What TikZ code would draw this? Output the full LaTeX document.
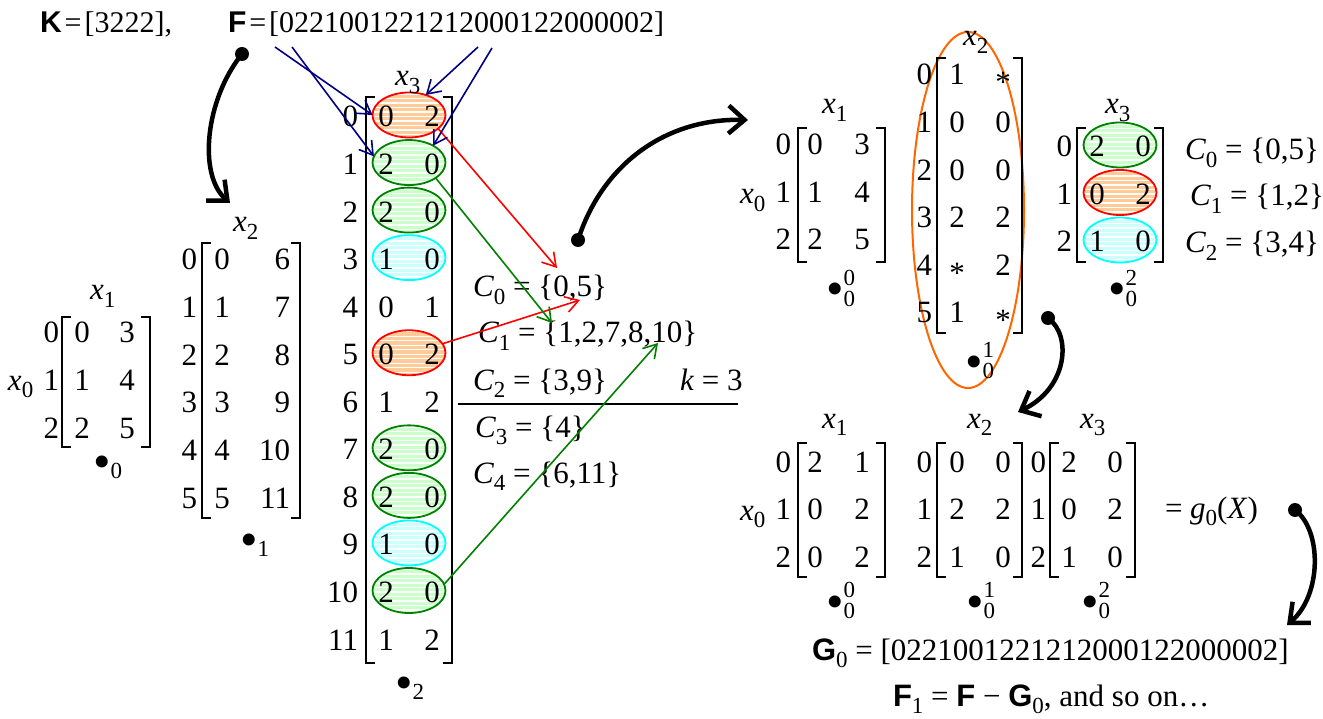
\documentclass[tikz,border=0pt]{standalone}
\usepackage{fontspec}
\setmainfont{Liberation Serif}
\setsansfont{Liberation Sans}
\usetikzlibrary{arrows.meta,shapes.geometric}
\definecolor{dkgreen}{RGB}{0,128,0}
\definecolor{arrblue}{RGB}{0,0,128}
\definecolor{orgline}{RGB}{255,102,0}
\definecolor{orgfill}{RGB}{255,204,153}
\definecolor{grfill}{RGB}{204,255,204}
\definecolor{cyfill}{RGB}{204,255,255}
\definecolor{cyline}{RGB}{0,255,255}
\newcommand\smallfs{\fontsize{23}{23}\selectfont}
\newcommand\sbs[2]{#1\raisebox{-0.25em}{\smallfs #2}}
\newcommand\bigbul{\raisebox{-6pt}{\fontsize{50}{50}\selectfont\textbullet}}
\newcommand\bsub[2]{\bigbul\raisebox{-0.2em}{\smallfs #2}\llap{\raisebox{0.47em}{\smallfs #1}}}
\newcommand\vx[1]{\sbs{\textit{x}}{#1}}
\newcommand\bsf[1]{\textsf{\textbf{#1}}}
\newcommand\astk{\raisebox{-0.25em}{*}}
\newcommand\mbr[4]{\draw[brk] ({#1+9},#3) -- (#1,#3) -- (#1,#4) -- ({#1+9},#4); \draw[brk] ({#2-9},#3) -- (#2,#3) -- (#2,#4) -- ({#2-9},#4);}
\tikzset{
 every node/.style={inner sep=0pt, outer sep=0pt, font=\fontsize{31}{37}\selectfont},
 tb/.style={anchor=base}, te/.style={anchor=base east}, tw/.style={anchor=base west},
 topfs/.style={font=\fontsize{30}{36}\selectfont},
 brk/.style={line width=1.3pt},
 hell/.style={ellipse, minimum width=73pt, minimum height=45pt, line width=1.8pt,
   path picture={\foreach \k in {-24,-19.5,...,24}{\draw[white,line width=1.3pt] ([yshift=\k pt]path picture bounding box.west) -- ([yshift=\k pt]path picture bounding box.east);}}},
 bigdot/.style={circle, fill=black, minimum size=14pt},
 curv/.style={line width=4.5pt, -{Straight Barb[length=16pt,width=28pt]}},
 thin/.style={line width=1.6pt, -{Straight Barb[length=13pt,width=16pt]}},
}
\begin{document}
\begin{tikzpicture}[x=1pt,y=-1pt]
\useasboundingbox (0,0) rectangle (1323,719);

% top line
\node[tw, topfs] (kvec) at (40,33) {\bsf{K}\kern3pt=\kern3pt[3222],};
\node[tw, topfs] (fvec) at (228,33) {\bsf{F}\kern3pt=\kern3pt[0221001221212000122000002]};

% left matrix x1
\node[tw] (m1lab) at (90,300) {\vx{1}};
\node[tw] (m1x0) at (8,390) {\vx{0}};
\foreach \a/\b [count=\i from 0] in {0/3,1/4,2/5}{
  \node[te] (m1r\i) at (59,{342+48*\i}) {\i};
  \node[tb] (m1a\i) at (82,{342+48*\i}) {\a};
  \node[tb] (m1b\i) at (127,{342+48*\i}) {\b};
}
\mbr{62}{150}{317}{447}
\node[tw] (m1dot) at (93,472) {\bsub{}{0}};

% matrix x2
\node[tw] (m2lab) at (233,232) {\vx{2}};
\foreach \a/\b [count=\i from 0] in {0/6,1/7,2/8,3/9,4/10,5/11}{
  \node[te] (m2r\i) at (197,{270+47.6*\i}) {\i};
  \node[tb] (m2a\i) at (222,{270+47.6*\i}) {\a};
  \node[te] (m2b\i) at (290,{270+47.6*\i}) {\b};
}
\mbr{202}{300}{243}{518}
\node[tw] (m2dot) at (240,550) {\bsub{}{1}};

% matrix x3 (middle)
\foreach \r/\dc/\fc in {0/red/orgfill,1/dkgreen/grfill,2/dkgreen/grfill,3/cyline/cyfill,5/red/orgfill,7/dkgreen/grfill,8/dkgreen/grfill,9/cyline/cyfill,10/dkgreen/grfill}{
  \node[hell, draw=\dc, fill=\fc] (e\r) at (409,{115+47.55*\r}) {};
}
\node[tw] (m3lab) at (395,86) {\vx{3}};
\foreach \a/\b [count=\i from 0] in {0/2,2/0,2/0,1/0,0/1,0/2,1/2,2/0,2/0,1/0,2/0,1/2}{
  \node[te] (m3r\i) at (358,{127+47.55*\i}) {\i};
  \node[tb] (m3a\i) at (386,{127+47.55*\i}) {\a};
  \node[tb] (m3b\i) at (432,{127+47.55*\i}) {\b};
}
\mbr{366}{452}{97}{663}
\node[tw] (m3dot) at (395,693) {\bsub{}{2}};

% classes
\node[tw] (c0) at (473,297) {\sbs{\textit{C}}{0} = \{0,5\}};
\node[tw] (c1) at (478,343) {\sbs{\textit{C}}{1} = \{1,2,7,8,10\}};
\node[tw] (c2) at (473,390) {\sbs{\textit{C}}{2} = \{3,9\}};
\node[tw] (kk) at (680,390) {\textit{k} = 3};
\node[tw] (c3) at (475,437) {\sbs{\textit{C}}{3} = \{4\}};
\node[tw] (c4) at (473,483) {\sbs{\textit{C}}{4} = \{6,11\}};
\coordinate (hl0) at (458,404);
\coordinate (hl1) at (738,404);
\draw[line width=2pt] (hl0) -- (hl1);

% colored arrows
\coordinate (tr0) at (557,268);
\coordinate (tr5) at (580,300);
\coordinate (tg1) at (552,323);
\coordinate (tg10) at (658,343);
\draw[thin, red] (e0.-25) -- (tr0);
\draw[thin, red] (e5.15) -- (tr5);
\draw[thin, dkgreen] (e1.-30) -- (tg1);
\draw[thin, dkgreen] (e10.10) -- (tg10);

% blue arrows
\coordinate (fb1) at (275,47);
\coordinate (fb2) at (292,47);
\coordinate (fb3) at (478,47);
\coordinate (fb4) at (492,48);
\draw[thin, arrblue] (fb1) -- (e0.west);
\draw[thin, arrblue] (fb2) -- (e1.170);
\draw[thin, arrblue] (fb3) -- (e0.50);
\draw[thin, arrblue] (fb4) -- (e1.35);

% big curved arrows
\node[bigdot] (d1) at (242,54) {};
\coordinate (t1) at (230,203);
\draw[curv] (d1.center) .. controls (205,100) and (198,175) .. (t1);
\node[bigdot] (d2) at (578,240) {};
\coordinate (t2) at (748,120);
\draw[curv] (d2.center) .. controls (602,165) and (665,118) .. (t2);
\node[bigdot] (d3) at (1048,318) {};
\coordinate (t3) at (1018,412);
\draw[curv] (d3.center) .. controls (1072,335) and (1068,388) .. (t3);
\node[bigdot] (d4) at (1295,510) {};
\coordinate (t4) at (1287,625);
\draw[curv] (d4.center) .. controls (1322,530) and (1322,595) .. (t4);

% right top x1
\node[tw] (m4lab) at (822,114) {\vx{1}};
\node[tw] (m4x0) at (740,204) {\vx{0}};
\foreach \a/\b [count=\i from 0] in {0/3,1/4,2/5}{
  \node[te] (m4r\i) at (791,{155+47.5*\i}) {\i};
  \node[tb] (m4a\i) at (815,{155+47.5*\i}) {\a};
  \node[tb] (m4b\i) at (862,{155+47.5*\i}) {\b};
}
\mbr{798}{885}{128}{262}
\node[tw] (m4dot) at (826,300) {\bsub{0}{0}};

% right top x2 in ellipse
\node[ellipse, draw=orgline, line width=2pt, minimum width=112pt, minimum height=356pt] (big) at (968,210) {};
\node[tw] (m5lab) at (963,46) {\vx{2}};
\foreach \a/\b [count=\i from 0] in {1/\astk,0/0,0/0,2/2,\astk/2,1/\astk}{
  \node[te] (m5r\i) at (932,{85+47.6*\i}) {\i};
  \node[tb] (m5a\i) at (957,{85+47.6*\i}) {\a};
  \node[tb] (m5b\i) at (1003,{85+47.6*\i}) {\b};
}
\mbr{937}{1022}{58}{333}
\node[tw] (m5dot) at (965,372) {\bsub{1}{0}};

% right top x3
\foreach \r/\dc/\fc in {0/dkgreen/grfill,1/red/orgfill,2/cyline/cyfill}{
  \node[hell, draw=\dc, fill=\fc] (f\r) at (1120,{145+47.5*\r}) {};
}
\node[tw] (m6lab) at (1105,114) {\vx{3}};
\foreach \a/\b [count=\i from 0] in {2/0,0/2,1/0}{
  \node[te] (m6r\i) at (1072,{157+47.5*\i}) {\i};
  \node[tb] (m6a\i) at (1097,{157+47.5*\i}) {\a};
  \node[tb] (m6b\i) at (1143,{157+47.5*\i}) {\b};
}
\mbr{1077}{1163}{128}{262}
\node[tw] (m6dot) at (1108,300) {\bsub{2}{0}};
\node[tw] (rc0) at (1185,160) {\sbs{\textit{C}}{0} = \{0,5\}};
\node[tw] (rc1) at (1190,206) {\sbs{\textit{C}}{1} = \{1,2\}};
\node[tw] (rc2) at (1185,253) {\sbs{\textit{C}}{2} = \{3,4\}};

% bottom right
\node[tw] (b1lab) at (822,428) {\vx{1}};
\node[tw] (b2lab) at (967,428) {\vx{2}};
\node[tw] (b3lab) at (1080,428) {\vx{3}};
\node[tw] (bx0) at (740,520) {\vx{0}};
\foreach \a/\b [count=\i from 0] in {2/1,0/2,0/2}{
  \node[te] (ba\i) at (791,{472+47.5*\i}) {\i};
  \node[tb] (baa\i) at (815,{472+47.5*\i}) {\a};
  \node[tb] (bab\i) at (862,{472+47.5*\i}) {\b};
}
\foreach \a/\b [count=\i from 0] in {0/0,2/2,1/0}{
  \node[te] (bb\i) at (932,{472+47.5*\i}) {\i};
  \node[tb] (bba\i) at (957,{472+47.5*\i}) {\a};
  \node[tb] (bbb\i) at (1003,{472+47.5*\i}) {\b};
}
\foreach \a/\b [count=\i from 0] in {2/0,0/2,1/0}{
  \node[te] (bc\i) at (1046,{472+47.5*\i}) {\i};
  \node[tb] (bca\i) at (1069,{472+47.5*\i}) {\a};
  \node[tb] (bcb\i) at (1115,{472+47.5*\i}) {\b};
}
\mbr{798}{885}{443}{577}
\mbr{937}{1022}{443}{577}
\mbr{1050}{1135}{443}{577}
\node[tw] (bd1) at (826,612) {\bsub{0}{0}};
\node[tw] (bd2) at (966,612) {\bsub{1}{0}};
\node[tw] (bd3) at (1081,612) {\bsub{2}{0}};
\node[tw] (geq) at (1165,518) {= \sbs{\textit{g}}{0}(\textit{X})};
\node[tw] (g0) at (812,660) {\sbs{\bsf{G}}{0} = [0221001221212000122000002]};
\node[tw] (f1) at (893,706) {\sbs{\bsf{F}}{1} = \bsf{F} − \sbs{\bsf{G}}{0}, and so on…};
\end{tikzpicture}
\end{document}
